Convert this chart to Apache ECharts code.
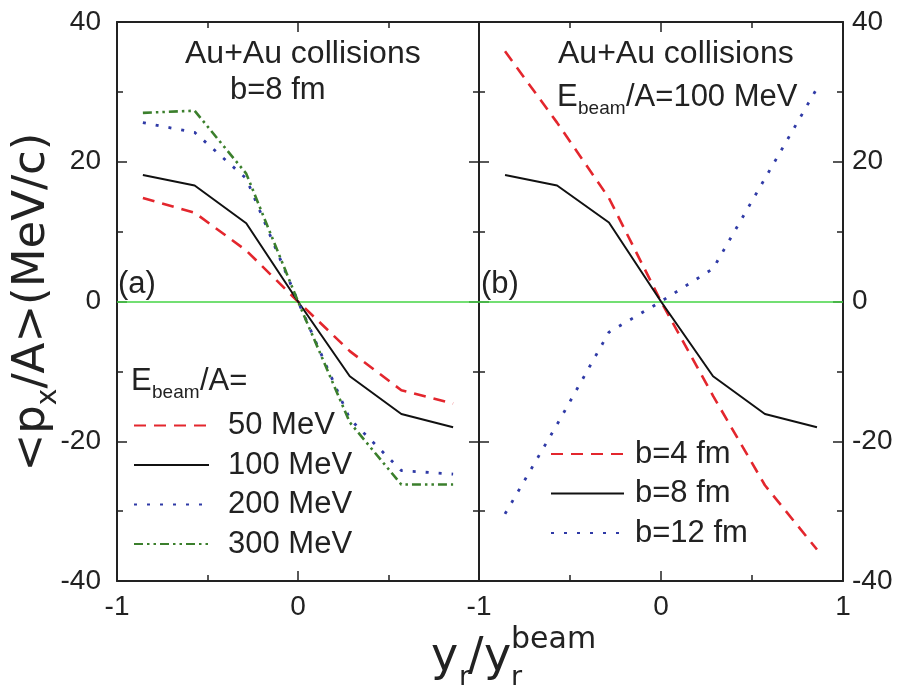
<!DOCTYPE html>
<html>
<head>
<meta charset="utf-8">
<script src="https://cdn.jsdelivr.net/npm/echarts@6/dist/echarts.min.js"></script>
<style>
  html, body { margin: 0; padding: 0; background: #fff; }
  #chart { width: 903px; height: 691px; }
</style>
</head>
<body>
<div id="chart"></div>
<script>
// Reduced rapidity y_r / y_r^beam at which the transverse flow was sampled
const rapidity = [-0.857, -0.571, -0.286, 0, 0.286, 0.571, 0.857];

// Panel (a): b = 8 fm, different beam energies, <p_x/A> in MeV/c
const flow50MeV  = [14.8, 12.7, 7.3, 0, -7.1, -12.7, -14.6];
const flow100MeV = [18.1, 16.6, 11.2, 0, -10.7, -16.1, -18.0];
const flow200MeV = [25.6, 24.2, 17.6, 0, -16.8, -24.2, -24.7];
const flow300MeV = [27.0, 27.3, 18.3, 0, -17.3, -26.2, -26.2];

// Panel (b): E_beam/A = 100 MeV, different impact parameters
const flowB4  = [35.8, 25.6, 14.8, 0, -13.5, -26.3, -35.5];
const flowB8  = [18.1, 16.6, 11.3, 0, -10.7, -16.1, -18.0];
const flowB12 = [-30.4, -17.6, -4.4, 0, 4.7, 17.6, 30.5];

const energyNames = ['50 MeV', '100 MeV', '200 MeV', '300 MeV'];
const impactNames = ['b=4 fm', 'b=8 fm', 'b=12 fm'];

const xTicks = { min: -1, max: 1, interval: 1 };
const yTicks = { min: -40, max: 40, interval: 20 };

const FONT = '"Liberation Sans", Arial, Helvetica, sans-serif';
const TITLE_FONT = '"DejaVu Sans", sans-serif';
const INK = '#222';
const RED = '#e3262d';
const BLACK = '#111';
const BLUE = '#2f3aa6';
const GREEN = '#3b7f2c';
const ZERO = '#44d544';

function pairs(ys) { return rapidity.map((x, i) => [x, ys[i]]); }

const axisLine = { show: true, onZero: false, lineStyle: { color: INK, width: 2 } };
const axisTick = { show: true, inside: true, length: 10, lineStyle: { color: INK, width: 1.5 } };
const minorTick = { show: true, splitNumber: 2, length: 6, lineStyle: { color: INK, width: 1.5 } };

function xAxis(gridIndex, position, showLabels, hideLast) {
  return {
    type: 'value', gridIndex, position,
    min: xTicks.min, max: xTicks.max, interval: xTicks.interval,
    axisLine, axisTick, minorTick, splitLine: { show: false },
    axisLabel: {
      show: showLabels, margin: 12, color: INK, fontFamily: FONT, fontSize: 28,
      formatter: v => (hideLast && v === xTicks.max) ? '' : String(v)
    }
  };
}
function yAxis(gridIndex, position, showLabels) {
  return {
    type: 'value', gridIndex, position,
    min: yTicks.min, max: yTicks.max, interval: yTicks.interval,
    axisLine, axisTick, minorTick, splitLine: { show: false },
    axisLabel: {
      show: showLabels, margin: position === 'left' ? 16 : 9,
      color: INK, fontFamily: FONT, fontSize: 28
    }
  };
}

function lineSeries(name, ys, axisIdx, color, type, width, withZero) {
  const s = {
    name, type: 'line', xAxisIndex: axisIdx, yAxisIndex: axisIdx,
    data: pairs(ys), symbol: 'none', smooth: false, silent: true,
    lineStyle: { color, type, width }, itemStyle: { color },
    z: 3
  };
  if (withZero) {
    s.markLine = {
      silent: true, symbol: 'none', label: { show: false },
      lineStyle: { color: ZERO, type: 'solid', width: 1.5 },
      data: [{ yAxis: 0 }], z: 1
    };
  }
  return s;
}

const dashed = [12, 8];
const dotted = [3, 10];
const dashDot = [9, 4, 2.5, 4, 2.5, 4];

const text = (x, y, str, size, family) => ({
  type: 'text', x, y, silent: true,
  style: { text: str, fill: INK, font: size + 'px ' + (family || FONT), verticalAlign: 'middle', align: 'left' }
});

const legendBase = {
  orient: 'vertical', padding: 0, itemHeight: 20, itemGap: 8.5, align: 'left',
  itemStyle: { opacity: 0 }
};

const option = {
  backgroundColor: '#fff',
  animation: false,
  grid: [
    { left: 117, top: 22, width: 362, height: 559 },
    { left: 479, top: 22, width: 364, height: 559 }
  ],
  xAxis: [
    xAxis(0, 'bottom', true, true),
    xAxis(1, 'bottom', true, false),
    xAxis(0, 'top', false, false),
    xAxis(1, 'top', false, false)
  ],
  yAxis: [
    yAxis(0, 'left', true),
    yAxis(1, 'right', true),
    yAxis(0, 'right', false),
    yAxis(1, 'left', false)
  ],
  legend: [
    Object.assign({}, legendBase, {
      data: energyNames, left: 133, top: 410, itemWidth: 75,
      textStyle: { fontFamily: FONT, fontSize: 31, lineHeight: 31, color: INK, padding: [0, 0, 0, 14] }
    }),
    Object.assign({}, legendBase, {
      data: impactNames, left: 550, top: 438.5, itemWidth: 73,
      textStyle: { fontFamily: FONT, fontSize: 31, lineHeight: 31, color: INK, padding: [0, 0, 0, 6] }
    })
  ],
  series: [
    lineSeries(energyNames[0], flow50MeV, 0, RED, dashed, 2.6, true),
    lineSeries(energyNames[1], flow100MeV, 0, BLACK, 'solid', 2, false),
    lineSeries(energyNames[2], flow200MeV, 0, BLUE, dotted, 2.8, false),
    lineSeries(energyNames[3], flow300MeV, 0, GREEN, dashDot, 2.6, false),
    lineSeries(impactNames[0], flowB4, 1, RED, dashed, 2.6, true),
    lineSeries(impactNames[1], flowB8, 1, BLACK, 'solid', 2, false),
    lineSeries(impactNames[2], flowB12, 1, BLUE, dotted, 2.8, false)
  ],
  graphic: [
    // panel (a) annotations
    text(185, 54, 'Au+Au collisions', 32),
    text(230, 90, 'b=8 fm', 31),
    text(118, 284, '(a)', 31),
    text(131, 381, 'E', 31),
    text(152, 393, 'beam', 19),
    text(200, 381, '/A=', 31),
    // panel (b) annotations
    text(558, 54, 'Au+Au collisions', 32),
    text(557, 97, 'E', 31),
    text(578, 109, 'beam', 19),
    text(626, 97, '/A=100 MeV', 31),
    text(481, 284, '(b)', 31),
    // y axis title, reading bottom to top
    {
      type: 'text', x: 32, y: 302, rotation: Math.PI / 2, silent: true,
      style: {
        text: '{a|<p}{s|x}{a|/A>(MeV/c)}', fill: INK, align: 'center', verticalAlign: 'middle',
        rich: {
          a: { fontFamily: TITLE_FONT, fontSize: 45, lineHeight: 46, fill: INK, verticalAlign: 'middle' },
          s: { fontFamily: TITLE_FONT, fontSize: 28, lineHeight: 62, fill: INK, verticalAlign: 'bottom' }
        }
      }
    },
    // x axis title y_r / y_r^beam
    text(431, 658, 'y', 46, TITLE_FONT),
    text(459, 678, 'r', 27, TITLE_FONT),
    text(468, 658, '/', 46, TITLE_FONT),
    text(484, 658, 'y', 46, TITLE_FONT),
    text(511, 678, 'r', 27, TITLE_FONT),
    text(511, 640, 'beam', 30, TITLE_FONT)
  ]
};

const chart = echarts.init(document.getElementById('chart'), null, { renderer: 'canvas' });
chart.setOption(option);
</script>
</body>
</html>
